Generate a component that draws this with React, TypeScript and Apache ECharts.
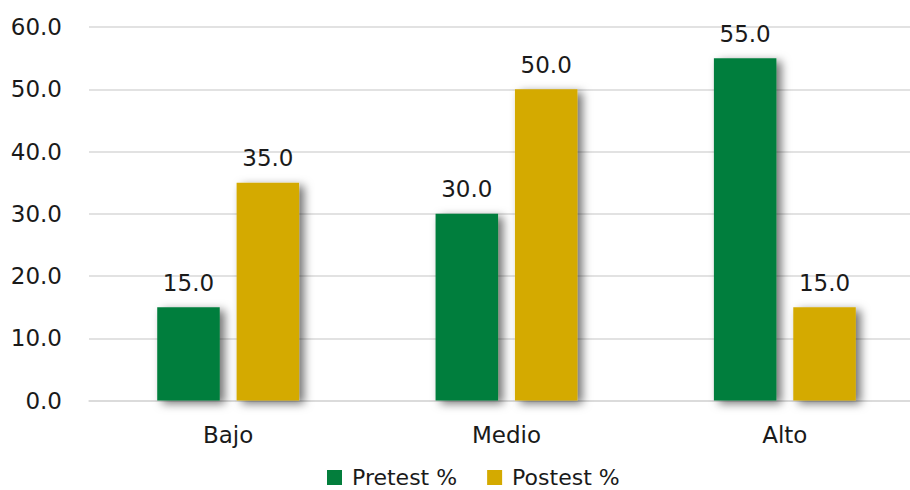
import React, { useEffect, useRef } from "react";
import * as echarts from "echarts";

const categories = ["Bajo", "Medio", "Alto"];
const pretest = [15.0, 30.0, 55.0];
const postest = [35.0, 50.0, 15.0];
const seriesNames = ["Pretest %", "Postest %"];

const FONT = "DejaVu Sans";

export default function App() {
  const ref = useRef<HTMLDivElement>(null);
  useEffect(() => {
    if (!ref.current) return;
    const chart = echarts.init(ref.current, null, { renderer: "svg" });
    const shadow = {
      shadowColor: "rgba(0,0,0,0.55)",
      shadowBlur: 10,
      shadowOffsetX: 5,
      shadowOffsetY: 3,
    };
    const label = {
      show: true,
      position: "top" as const,
      distance: 13,
      color: "#1a1a1a",
      fontFamily: FONT,
      fontSize: 23,
      formatter: (p: any) => Number(p.value).toFixed(1),
    };
    chart.setOption({
      animation: false,
      backgroundColor: "#ffffff",
      grid: { left: 89, top: 27, right: 16, height: 373.5, containLabel: false },
      legend: {
        data: seriesNames,
        left: 327,
        top: 466,
        padding: 0,
        itemWidth: 15,
        itemHeight: 15,
        itemGap: 30,
        icon: "rect",
        textStyle: {
          fontFamily: FONT,
          fontSize: 22,
          lineHeight: 23,
          color: "#1a1a1a",
          padding: [0, 0, 0, 5],
        },
      },
      xAxis: {
        type: "category",
        data: categories,
        axisLine: { show: true, lineStyle: { color: "#d9d9d9", width: 1.5 } },
        axisTick: { show: false },
        axisLabel: { fontFamily: FONT, fontSize: 23, color: "#1a1a1a", margin: 23 },
      },
      yAxis: {
        type: "value",
        min: 0,
        max: 60,
        interval: 10,
        axisLine: { show: false },
        axisTick: { show: false },
        splitLine: { lineStyle: { color: "#d9d9d9", width: 1.5 } },
        axisLabel: {
          fontFamily: FONT,
          fontSize: 23,
          color: "#1a1a1a",
          margin: 27,
          formatter: (v: number) => v.toFixed(1),
        },
      },
      series: [
        {
          name: seriesNames[0],
          type: "bar",
          data: pretest,
          barWidth: 62.5,
          barGap: "27%",
          itemStyle: { color: "#037E3C", ...shadow },
          label,
        },
        {
          name: seriesNames[1],
          type: "bar",
          data: postest,
          barWidth: 62.5,
          barGap: "27%",
          itemStyle: { color: "#D4AA00", ...shadow },
          label,
        },
      ],
    });
    return () => chart.dispose();
  }, []);
  return (
    <div
      style={{ position: "absolute", left: 0, top: 0, width: 910, height: 490, overflow: "hidden" }}
    >
      <div ref={ref} style={{ width: 940, height: 490 }} />
    </div>
  );
}
